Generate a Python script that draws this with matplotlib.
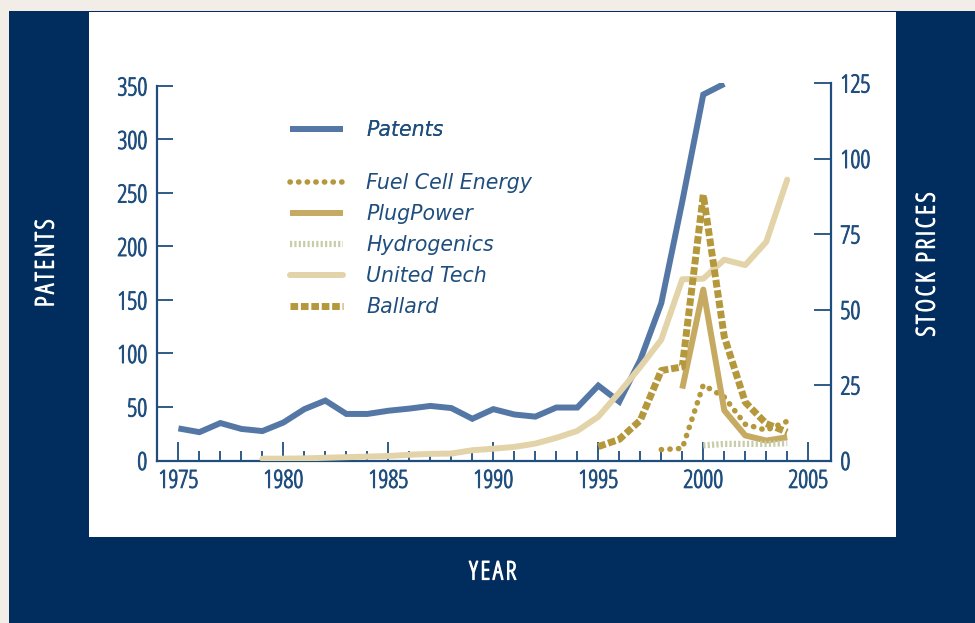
import matplotlib
matplotlib.use('Agg')
import matplotlib.pyplot as plt
import matplotlib.patheffects as pe
from matplotlib.patches import Rectangle
from matplotlib.ticker import FixedLocator, MultipleLocator

# Patent counts (left axis)
patent_years = list(range(1975, 2002))
patents = [30, 26.5, 35, 29.5, 27.5, 35.5, 48, 56, 43.5, 43.5, 46.5, 48.5, 51, 49,
           39, 48, 43, 41, 49.5, 49.5, 70, 55, 94, 147, 242, 342, 352]

# Stock prices (right axis)
utc_years = list(range(1979, 2005))
united_tech = [0.6, 0.6, 0.7, 0.9, 1.1, 1.3, 1.5, 1.9, 2.2, 2.3, 3.4, 3.9, 4.5, 5.6,
               7.5, 9.8, 14.5, 22.5, 31, 40, 60, 60.2, 66.5, 64.7, 72.4, 93]
ballard_years = list(range(1995, 2005))
ballard = [4.6, 7, 13.3, 29.8, 31, 88, 41, 19.3, 12.2, 9.4]
plug_years = list(range(1999, 2005))
plugpower = [23.8, 56.6, 16.6, 8.3, 6.6, 7.7]
fce_years = list(range(1998, 2005))
fuel_cell = [3.6, 4, 25, 21, 12, 10, 13]
hydro_years = list(range(2000, 2005))
hydrogenics = [5, 5.5, 5.5, 5.5, 5.7]

navy = '#002d5e'
axis_col = '#1f4e7e'
narrow = {'family': ['Open Sans', 'DejaVu Sans'], 'stretch': 'condensed'}

fig = plt.figure(figsize=(9.75, 6.23), dpi=100)
fig.patch.set_facecolor('#f2ede6')
fig.patches.append(Rectangle((9 / 975, 0), 1, 1 - 11 / 623, transform=fig.transFigure,
                             facecolor=navy, edgecolor='none', zorder=-2))
fig.patches.append(Rectangle((89 / 975, 1 - 537 / 623), (896 - 89) / 975, (537 - 12) / 623,
                             transform=fig.transFigure, facecolor='white',
                             edgecolor='none', zorder=-1))

ax = fig.add_axes([157 / 975, 1 - 460.5 / 623, (830.7 - 157) / 975, (460.5 - 83) / 623])
ax.patch.set_alpha(0)
ax2 = ax.twinx()

ax.plot(patent_years, patents, color='#5577a6', lw=4.3, solid_capstyle='butt',
        solid_joinstyle='miter', label='Patents', zorder=3)

ax2.plot(fce_years, fuel_cell, color='#b5983c', lw=4, linestyle=(0, (0.05, 1.5)),
         dash_capstyle='round', label='Fuel Cell Energy')
ax2.plot(plug_years, plugpower, color='#c6aa62', lw=4.3, solid_capstyle='butt',
         label='PlugPower')
ax2.plot(hydro_years, hydrogenics, color='#c8cca8', lw=4.5, linestyle=(0, (0.35, 0.35)),
         label='Hydrogenics')
ax2.plot(utc_years, united_tech, color='#e3d3a8', lw=4.3, solid_capstyle='round',
         label='United Tech', zorder=1)
ax2.plot(ballard_years, ballard, color='#b5983c', lw=5, linestyle=(0, (1.1, 0.4)),
         label='Ballard')

ax.set_xlim(1973.98, 2006.07)
ax.set_ylim(0, 352.8)
ax2.set_ylim(0, 125)

for a in (ax, ax2):
    for s in a.spines.values():
        s.set_color(axis_col)
        s.set_linewidth(1.6)
    a.spines['top'].set_visible(False)
ax.spines['right'].set_visible(False)
ax2.spines['left'].set_visible(False)
ax2.spines['bottom'].set_visible(False)
ax.spines['left'].set_bounds(0, 350)
ax2.spines['right'].set_bounds(0, 125)

ax.set_yticks(range(0, 351, 50))
ax2.set_yticks(range(0, 126, 25))
ax.xaxis.set_major_locator(MultipleLocator(5))
ax.xaxis.set_minor_locator(FixedLocator(range(1975, 2006)))
ax.set_xticks(range(1975, 2006, 5))

ax.tick_params(axis='y', direction='in', length=11.5, width=1.3, color=axis_col,
               labelcolor=axis_col, labelsize=18, pad=7)
ax2.tick_params(axis='y', direction='in', length=12, width=1.3, color=axis_col,
                labelcolor=axis_col, labelsize=18, pad=7)
ax.tick_params(axis='x', which='major', direction='in', length=13.5, width=1.3,
               color=axis_col, labelcolor=axis_col, labelsize=18, pad=6)
ax.tick_params(axis='x', which='minor', direction='in', length=7, width=1.3, color=axis_col)
for lab in ax.get_xticklabels() + ax.get_yticklabels() + ax2.get_yticklabels():
    lab.set_fontfamily(narrow['family'])
    lab.set_fontstretch(narrow['stretch'])
    lab.set_path_effects([pe.withStroke(linewidth=0.7, foreground=axis_col)])

# legends
h1, l1 = ax.get_legend_handles_labels()
h2, l2 = ax2.get_legend_handles_labels()
leg_font = {'family': 'DejaVu Sans', 'style': 'oblique', 'size': 14.8}
leg1 = ax.legend(h1, l1, loc='upper left', bbox_to_anchor=(0.17, 0.95), frameon=False,
                 prop=leg_font, handlelength=2.6, handletextpad=1.1, labelcolor=axis_col)
ax.add_artist(leg1)
ax2.legend(h2, l2, loc='upper left', bbox_to_anchor=(0.17, 0.81), frameon=False,
           prop=leg_font, handlelength=2.6, handletextpad=1.1, labelspacing=0.53,
           labelcolor=axis_col)

# letter-spaced axis titles (hair spaces)
hs = '\u200a'
white_fx = [pe.withStroke(linewidth=0.9, foreground='white')]
fig.text(47 / 975, 1 - 263 / 623, hs.join('PATENTS'), rotation=90, color='white',
         fontsize=18.5, ha='center', va='center', path_effects=white_fx, **narrow)
fig.text(928 / 975, 1 - 264 / 623, hs.join('STOCK PRICES'), rotation=90, color='white',
         fontsize=18.5, ha='center', va='center', path_effects=white_fx, **narrow)
fig.text(493 / 975, 1 - 573 / 623, hs.join('YEAR'), color='white', fontsize=18.5,
         ha='center', va='center', path_effects=white_fx, **narrow)

fig.savefig('out.png', dpi=100, facecolor=fig.get_facecolor())
